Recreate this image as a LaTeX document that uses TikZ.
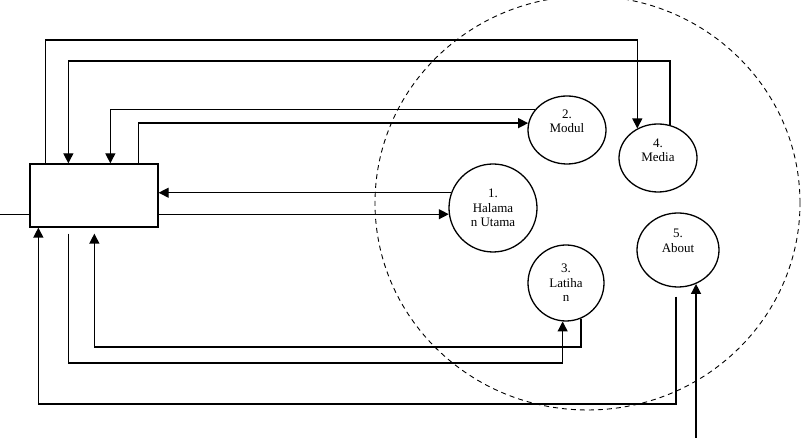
\documentclass[tikz,border=0pt]{standalone}
\usepackage{fontspec}
\setmainfont{Liberation Serif}
\usetikzlibrary{shapes.geometric,arrows.meta}

\begin{document}
\begin{tikzpicture}[x=1pt,y=1pt,
    proc/.style={draw,line width=1.3pt,ellipse,inner sep=0pt,align=center,font=\fontsize{13}{14.5}\selectfont},
    flow/.style={line width=1.3pt,-{Triangle[length=10pt,width=10pt]}}]
    \useasboundingbox (0,0) rectangle (806,438);
    \draw[dash pattern=on 5pt off 4pt,line width=0.9pt] (587.5,235) ellipse [x radius=212.5pt,y radius=207pt];
    \node (box) [draw,line width=1.3pt,minimum width=128pt,minimum height=63pt,inner sep=0pt] at (94,242.5) {};
    \node (hal) [proc,minimum width=88pt,minimum height=88pt] at (493,230) {1.\\Halama\\n Utama};
    \node (modul) [proc,minimum width=78pt,minimum height=68pt] at (567,308) {2.\\Modul\\[3pt]};
    \node (lat) [proc,minimum width=76pt,minimum height=76pt] at (566,155) {3.\\Latiha\\n};
    \node (media) [proc,minimum width=78pt,minimum height=68pt] at (658,280) {4.\\Media\\[1pt]};
    \node (about) [proc,minimum width=82pt,minimum height=74pt] at (678,188) {5.\\About\\[4pt]};
    \coordinate (bt1) at ([xshift=16pt]box.north west);
    \coordinate (bt2) at ([xshift=39pt]box.north west);
    \coordinate (bt3) at ([xshift=81pt]box.north west);
    \coordinate (bt4) at ([xshift=109pt]box.north west);
    \coordinate (bb1) at ([xshift=9pt]box.south west);
    \coordinate (bb2) at ([xshift=39pt,yshift=-6pt]box.south west);
    \coordinate (bb3) at ([xshift=65pt,yshift=-6pt]box.south west);
    \coordinate (ab1) at ([xshift=-2pt,yshift=-9pt]about.south);
    \draw[flow] (bt1) -- (bt1 |- 0,398) -| (media.125);
    \draw[flow] (media.70) |- (bt2 |- 0,377) -- (bt2);
    \draw[flow] (modul.147) -| (bt3);
    \draw[flow] (bt4) |- (modul.170);
    \draw[flow] (hal.160) -- (box.east |- hal.160);
    \draw[flow] (box.east |- hal.188) -- (hal.188);
    \draw[line width=0.8pt] (hal.188 -| 0,0) -- (box.west |- hal.188);
    \draw[flow] (bb2) |- (lat.265 |- 0,75) -- (lat.265);
    \draw[flow] (lat.293) |- (bb3 |- 0,91) -- (bb3);
    \draw[flow] (ab1) |- (bb1 |- 0,34) -- (bb1);
    \draw[flow] (about.298 |- 0,0) -- (about.298);
\end{tikzpicture}
\end{document}
